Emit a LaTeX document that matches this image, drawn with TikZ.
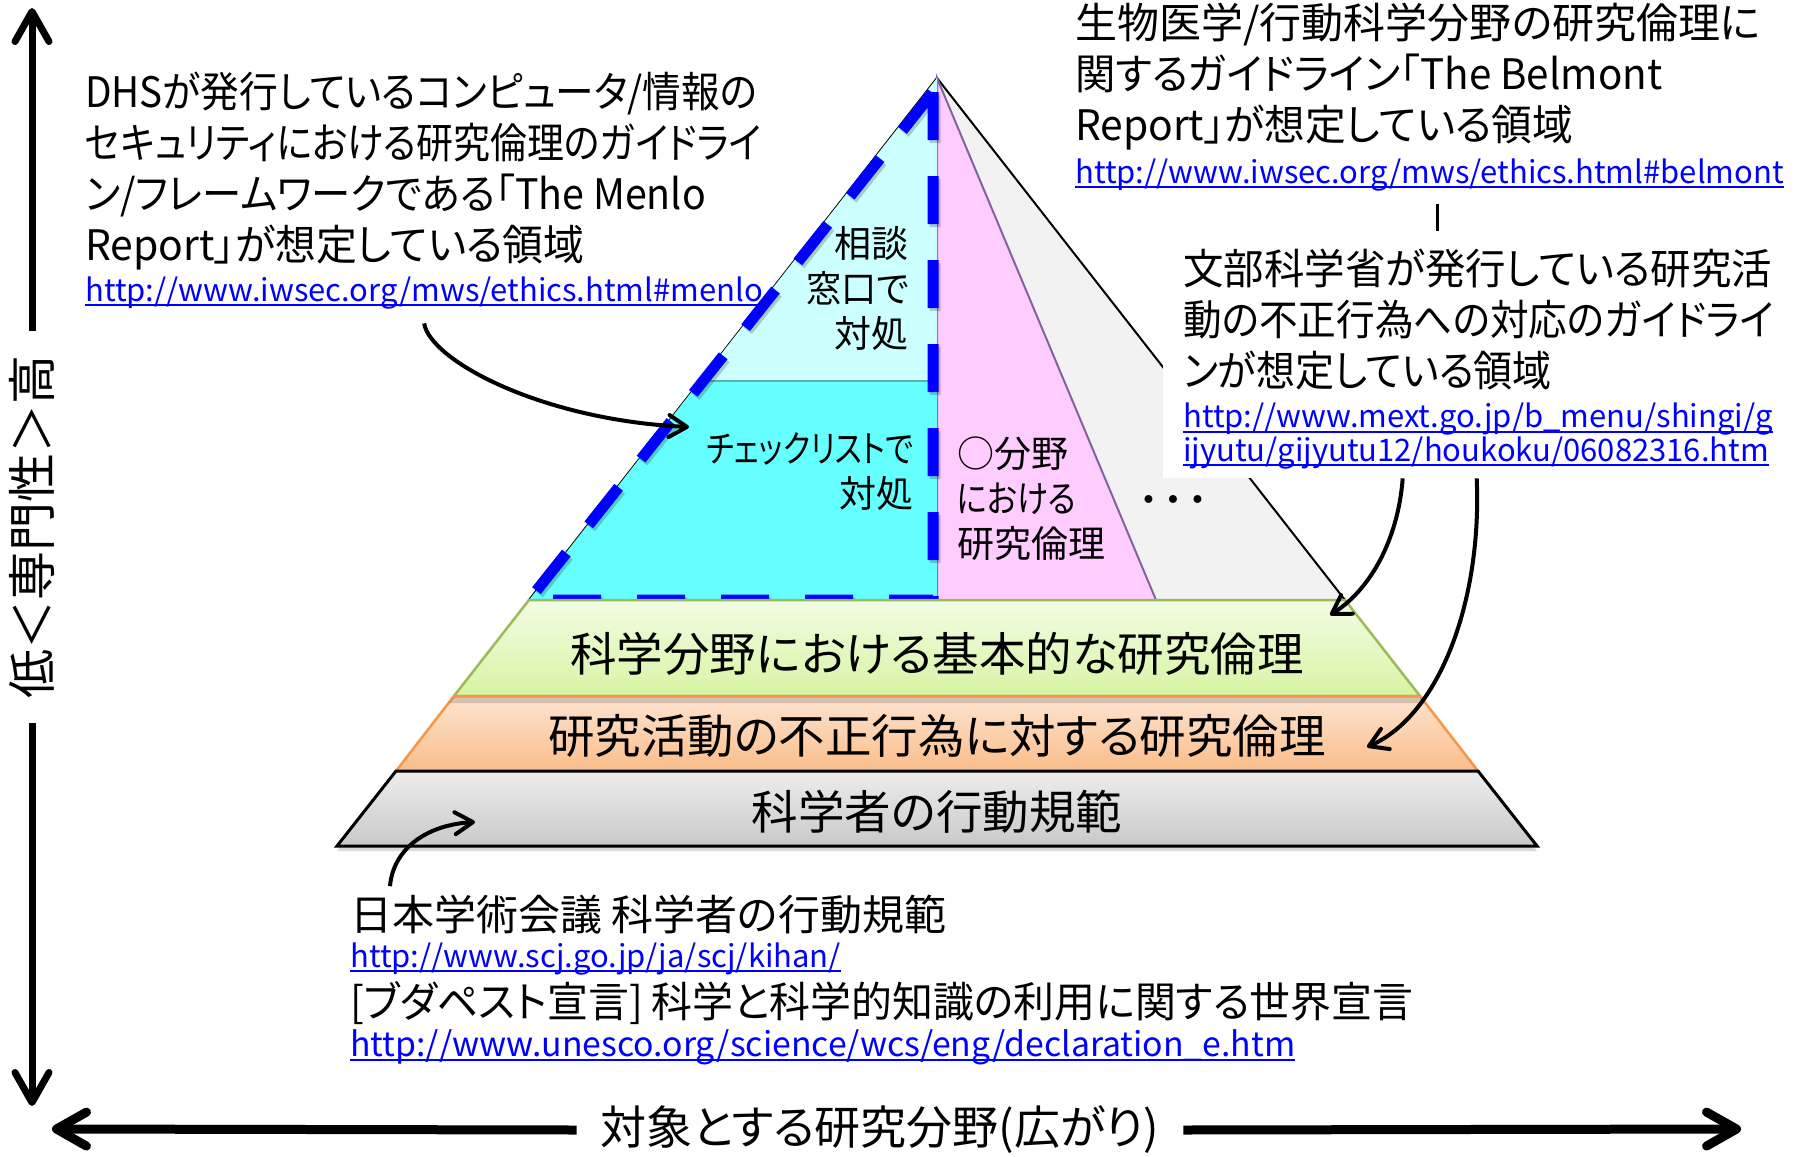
\documentclass[tikz,border=0pt]{standalone}
\usepackage{fontspec}
\setmainfont{Noto Sans CJK JP}[RawFeature=+palt]
\newfontfamily\dotfont{DejaVu Sans}
\usetikzlibrary{arrows.meta,shadows}

\definecolor{topgray}{HTML}{F2F2F2}
\definecolor{pinkfill}{HTML}{FFCCFF}
\definecolor{pinkline}{HTML}{8064A2}
\definecolor{cyanlight}{HTML}{CCFFFF}
\definecolor{cyanfill}{HTML}{66FFFF}
\definecolor{cyanline}{HTML}{5FB0B0}
\definecolor{dashblue}{HTML}{0000FF}
\definecolor{greentop}{HTML}{F2FCE4}
\definecolor{greenbot}{HTML}{D7F5A3}
\definecolor{greenline}{HTML}{9BBB59}
\definecolor{orangetop}{HTML}{FDE4D0}
\definecolor{orangebot}{HTML}{FBBD8A}
\definecolor{orangeline}{HTML}{F79646}
\definecolor{graytop}{HTML}{EDEDED}
\definecolor{graybot}{HTML}{C9C9C9}
\definecolor{linkblue}{HTML}{0000FF}

\newcommand{\link}[1]{\setbox0\hbox{#1}\rlap{\rule[-5pt]{\wd0}{2pt}}\box0}
\newcommand{\sq}[1]{\addfontfeatures{FakeStretch=#1}}

\begin{document}
\begin{tikzpicture}[x=1pt,y=-1pt,
	axisline/.style={line width=7pt,-{Straight Barb[length=30pt,width=34pt,round]}},
	callout/.style={line width=4pt,-{Straight Barb[length=18pt,width=22pt,round]}},
	blocktext/.style={font=\fontsize{42}{51}\selectfont,align=left,inner sep=0pt,anchor=west},
	urltext/.style={font=\fontsize{31}{31}\selectfont,text=linkblue,align=left,inner sep=0pt,anchor=west},
	pyrtext/.style={font=\fontsize{37}{45}\selectfont,inner sep=0pt},
	layertext/.style={font=\fontsize{46.5}{46.5}\selectfont,inner sep=0pt},
	axislabel/.style={font=\fontsize{46}{46}\selectfont,inner xsep=24pt,inner ysep=0pt},
	bluedash/.style={draw=dashblue,line width=11pt,dash pattern=on 48pt off 36pt}]
	\useasboundingbox (0,0) rectangle (1798,1156);

	% top of the pyramid
	\filldraw[fill=topgray,draw=black,line width=2pt] (937,78) -- (529,600) -- (1345,600) -- cycle;
	\filldraw[fill=pinkfill,draw=pinkline,line width=2pt] (937,78) -- (937,600) -- (1156,600) -- cycle;
	\fill[cyanlight] (937,78) -- (700,381) -- (937,381) -- cycle;
	\fill[cyanfill] (700,381) -- (529,600) -- (937,600) -- (937,381) -- cycle;
	\draw[cyanline,line width=2pt] (700,381) -- (937,381);
	\draw[bluedash,draw=black,opacity=.2,xshift=2pt,yshift=-3pt] (933,92) -- (933,600) -- (529,600) -- cycle;
	\draw[bluedash] (933,92) -- (933,600) -- (529,600) -- cycle;

	% layers
	\shadedraw[top color=greentop,bottom color=greenbot,draw=greenline,line width=2.5pt]
		(529,600) -- (1345,600) -- (1420,696) -- (454,696) -- cycle;
	\shadedraw[top color=orangetop,bottom color=orangebot,draw=orangeline,line width=2.5pt]
		(454,696) -- (1420,696) -- (1478,771) -- (396,771) -- cycle;
	\fill[black,opacity=.15] (454,697) -- (1420,697) -- (1424,703) -- (449,703) -- cycle;
	\shadedraw[top color=graytop,bottom color=graybot,draw=black,line width=3pt,
		drop shadow={opacity=.3,shadow xshift=0pt,shadow yshift=-5pt}]
		(396,771) -- (1478,771) -- (1537,846) -- (337,846) -- cycle;

	% texts in the pyramid
	\node[pyrtext,align=right,anchor=east] (soudan) at (909,288) {相談\\{\sq{0.95}窓口で}\\対処};
	\node[pyrtext,align=right,anchor=east] (check) at (914,472) {{\sq{0.82}チェックリストで}\\対処};
	\node[pyrtext,align=left,anchor=west] (bunya) at (957,499) {○分野\\{\sq{0.85}における}\\研究倫理};
	\node[font=\dotfont\fontsize{27}{27}\selectfont,inner sep=0pt] (dots) at (1173,503) {• • •};
	\node[layertext] (kiso) at (937,654) {科学分野における基本的な研究倫理};
	\node[layertext] (fusei) at (937,736) {研究活動の不正行為に対する研究倫理};
	\node[layertext] (kihan) at (937,812) {科学者の行動規範};

	% guidelines
	\node[blocktext] (menlo) at (85,171) {{\sq{0.92}DHSが発行しているコンピュータ/情報の}\\{\sq{0.88}セキュリティにおける研究倫理のガイドライ}\\{\sq{0.936}ン/フレームワークである「The Menlo}\\{\sq{0.973}Report」が想定している領域}};
	\node[urltext] (menlourl) at (85,293) {\link{http://www.iwsec.org/mws/ethics.html\#menlo}};
	\node[blocktext] (belmont) at (1075,77) {生物医学/行動科学分野の研究倫理に\\{\sq{0.96}関するガイドライン「The Belmont}\\{\sq{0.97}Report」が想定している領域}};
	\node[urltext] (belmonturl) at (1075,175) {\link{http://www.iwsec.org/mws/ethics.html\#belmont}};
	\draw[line width=3pt] (1437,204) -- (1437,231);
	\node[fill=white,inner sep=0pt,minimum width=627pt,minimum height=240pt,anchor=north west] (mextbox) at (1163,238) {};
	\node[blocktext] (mext) at (1183,320) {{\sq{0.963}文部科学省が発行している研究活}\\{\sq{0.92}動の不正行為への対応のガイドライ}\\{\sq{0.93}ンが想定している領域}};
	\node[urltext] (mexturl) at (1183,436) {\link{http://www.mext.go.jp/b\_menu/shingi/g}\\\link{ijyutu/gijyutu12/houkoku/06082316.htm}};
	\node[blocktext] (scj) at (350,915) {日本学術会議 科学者の行動規範};
	\node[urltext] (scjurl) at (350,959) {\link{http://www.scj.go.jp/ja/scj/kihan/}};
	\node[blocktext] (budapest) at (350,1003) {{\sq{0.974}[ブダペスト宣言] 科学と科学的知識の利用に関する世界宣言}};
	\node[urltext,font=\fontsize{33.8}{33.8}\selectfont] (unescourl) at (350,1047) {\link{http://www.unesco.org/science/wcs/eng/declaration\_e.htm}};

	% arrows
	\coordinate (menlotip) at (689,427);
	\coordinate (kisotip) at (1330,615);
	\coordinate (fuseitip) at (1367,747);
	\coordinate (kihantip) at (475,822);
	\draw[callout] ([yshift=-14pt]menlourl.south) .. controls (430,360) and (540,420) .. (menlotip);
	\draw[callout] ([xshift=-74pt]mextbox.south) .. controls (1398,540) and (1370,590) .. (kisotip);
	\draw[callout] (mextbox.south) .. controls (1482,600) and (1440,715) .. (fuseitip);
	\draw[callout] ([xshift=40pt,yshift=9pt]scj.north west) .. controls (393,850) and (425,825) .. (kihantip);

	% axes
	\node[axislabel,rotate=90,font=\fontsize{49}{49}\selectfont] (vlabel) at (32,527) {低＜専門性＞高};
	\coordinate (vtop) at (32,8);
	\coordinate (vbot) at (32,1106);
	\draw[axisline] (vlabel.east) -- (vtop);
	\draw[axisline] (vlabel.west) -- (vbot);
	\node[axislabel] (hlabel) at (880,1130) {対象とする研究分野(広がり)};
	\coordinate (hleft) at (52,1129);
	\coordinate (hright) at (1741,1129);
	\draw[axisline,line width=9pt] (hlabel.west) -- (hleft);
	\draw[axisline,line width=9pt] (hlabel.east) -- (hright);
\end{tikzpicture}
\end{document}
